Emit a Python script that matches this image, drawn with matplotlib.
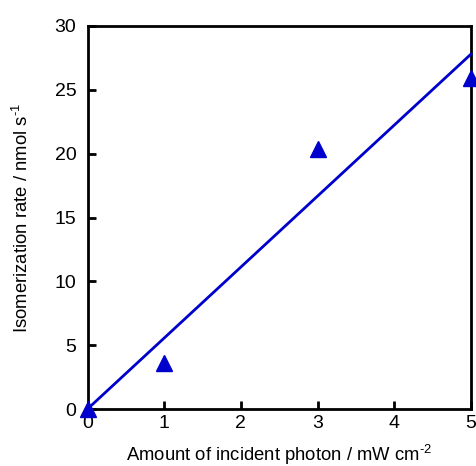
import matplotlib
matplotlib.use("Agg")
import matplotlib.pyplot as plt
import numpy as np

plt.rcParams['font.family'] = ['Liberation Sans', 'DejaVu Sans']
plt.rcParams['mathtext.fontset'] = 'custom'
plt.rcParams['mathtext.rm'] = 'Liberation Sans'
plt.rcParams['mathtext.it'] = 'Liberation Sans'
plt.rcParams['mathtext.bf'] = 'Liberation Sans'

photon = [0, 1, 3, 5]
rate = [0, 3.6, 20.4, 25.9]
fit_x = [0, 5]
fit_y = [0, 27.8]

fig = plt.figure(figsize=(4.76, 4.66), dpi=100)
ax = fig.add_axes([87.5/476, 1 - 409/466, (471-87.5)/476, (409-26)/466])
ax.plot(fit_x, fit_y, color='#0000cc', lw=2, clip_on=False, zorder=3)
ax.plot(photon, rate, linestyle='none', marker='^', markersize=12, color='#0000cc', clip_on=False, zorder=4)
ax.set_xlim(0, 5)
ax.set_ylim(0, 30)
ax.set_xticks([0, 1, 2, 3, 4, 5])
ax.set_yticks([0, 5, 10, 15, 20, 25, 30])
for s in ax.spines.values():
    s.set_linewidth(2)
ax.tick_params(direction='in', length=6, width=2, labelsize=14)
ax.tick_params(axis='x', pad=4)
ax.tick_params(axis='y', pad=8)
ax.set_xlabel(r'Amount of incident photon / mW cm$^{\text{-2}}$', fontsize=13.3, labelpad=8)
ax.set_ylabel(r'Isomerization rate / nmol s$^{\text{-1}}$', fontsize=13.3, labelpad=16)
fig.savefig('out.png', dpi=100)
